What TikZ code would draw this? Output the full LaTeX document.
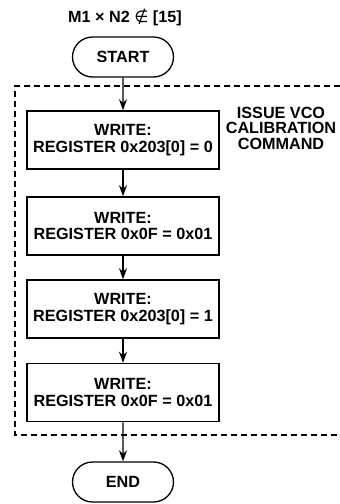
\documentclass[tikz,border=0pt]{standalone}
\usepackage{fontspec}
\setmainfont{Liberation Sans}
\newfontfamily\symfont{DejaVu Sans}
\usetikzlibrary{arrows.meta,shapes.misc}
\begin{document}
\begin{tikzpicture}[x=1pt,y=-1pt,
  txt/.style={font=\bfseries\fontsize{16.2}{16.5}\selectfont, align=center},
  term/.style={txt, draw, line width=1.3pt, rounded rectangle, minimum width=101pt, minimum height=40pt, inner sep=0pt},
  stepbox/.style={txt, draw, line width=1.5pt, rectangle, minimum width=192pt, minimum height=58pt, inner sep=0pt},
  arr/.style={line width=1.3pt, -{Stealth[length=11pt,width=8pt]}},
  grp/.style={line width=1.3pt, dash pattern=on 6pt off 4pt}]
\useasboundingbox (0,0) rectangle (340,504);
\node[txt] (title) at (125,17) {M1 × N2 {\symfont\mdseries ∉} [15]};
\node[term] (start) at (123,57) {START};
\node[stepbox] (b1) at (123,140) {WRITE:\\REGISTER 0x203[0] = 0};
\node[stepbox] (b2) at (123,226) {WRITE:\\REGISTER 0x0F = 0x01};
\node[stepbox] (b3) at (123,309) {WRITE:\\REGISTER 0x203[0] = 1};
\node[stepbox] (b4) at (123,392.5) {WRITE:\\REGISTER 0x0F = 0x01};
\node[term] (end) at (123,482) {END};
\node[txt, font=\bfseries\fontsize{16.2}{15.5}\selectfont] (lbl) at (281,128) {ISSUE VCO\\CALIBRATION\\COMMAND};
\coordinate (gtl) at (15,86);
\coordinate (gbl) at (15,435);
\draw[grp] (340,86) -- (gtl) -- (gbl) -- (340,435);
\draw[arr] (start) -- (b1);
\draw[arr] (b1) -- (b2);
\draw[arr] (b2) -- (b3);
\draw[arr] (b3) -- (b4);
\draw[arr] (b4) -- (end);
\end{tikzpicture}
\end{document}
